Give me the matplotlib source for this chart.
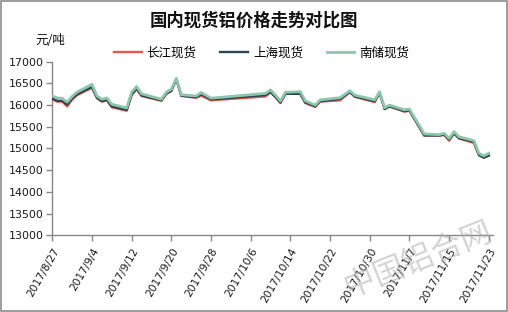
import matplotlib
matplotlib.use("Agg")
import matplotlib.pyplot as plt
import pandas as pd

plt.rcParams['font.family'] = ['Noto Sans CJK SC', 'DejaVu Sans']

dates = ["2017-08-27", "2017-08-28", "2017-08-29", "2017-08-30", "2017-08-31", "2017-09-01",
         "2017-09-04", "2017-09-05", "2017-09-06", "2017-09-07", "2017-09-08",
         "2017-09-11", "2017-09-12", "2017-09-13", "2017-09-14",
         "2017-09-18", "2017-09-19", "2017-09-20", "2017-09-21", "2017-09-22",
         "2017-09-25", "2017-09-26", "2017-09-28",
         "2017-10-09", "2017-10-10", "2017-10-11", "2017-10-12", "2017-10-13",
         "2017-10-16", "2017-10-17", "2017-10-19", "2017-10-20",
         "2017-10-24", "2017-10-26", "2017-10-27", "2017-10-31",
         "2017-11-01", "2017-11-02", "2017-11-03", "2017-11-06", "2017-11-07",
         "2017-11-10", "2017-11-13", "2017-11-14", "2017-11-15", "2017-11-16", "2017-11-17",
         "2017-11-20", "2017-11-21", "2017-11-22", "2017-11-23"]

changjiang = [16130, 16080, 16080, 15970, 16130, 16230,
              16400, 16160, 16080, 16110, 15950,
              15870, 16230, 16370, 16210,
              16100, 16260, 16320, 16600, 16210,
              16170, 16220, 16110,
              16200, 16300, 16180, 16050, 16260,
              16260, 16050, 15960, 16080,
              16110, 16300, 16190, 16070,
              16280, 15910, 15970, 15850, 15870,
              15300, 15300, 15310, 15180, 15350, 15230,
              15130, 14850, 14790, 14830]

shanghai = [16150, 16100, 16100, 16010, 16150, 16250,
            16420, 16170, 16090, 16120, 15970,
            15890, 16250, 16380, 16220,
            16110, 16270, 16330, 16600, 16220,
            16180, 16250, 16130,
            16230, 16300, 16190, 16060, 16260,
            16260, 16060, 15970, 16090,
            16140, 16300, 16200, 16090,
            16280, 15910, 15970, 15860, 15880,
            15300, 15300, 15320, 15210, 15350, 15240,
            15150, 14850, 14790, 14840]

nanchu = [16210, 16165, 16155, 16070, 16200, 16300,
          16480, 16210, 16135, 16165, 16020,
          15935, 16300, 16430, 16260,
          16135, 16300, 16365, 16620, 16240,
          16210, 16290, 16160,
          16270, 16350, 16230, 16095, 16295,
          16310, 16100, 16000, 16120,
          16170, 16330, 16230, 16120,
          16310, 15940, 16000, 15890, 15910,
          15335, 15320, 15350, 15235, 15390, 15270,
          15180, 14890, 14830, 14890]

series_names = ["长江现货", "上海现货", "南储现货"]
yticks = [13000, 13500, 14000, 14500, 15000, 15500, 16000, 16500, 17000]
tick_dates = ["2017-08-27", "2017-09-04", "2017-09-12", "2017-09-20", "2017-09-28", "2017-10-06",
              "2017-10-14", "2017-10-22", "2017-10-30", "2017-11-07", "2017-11-15", "2017-11-23"]
tick_labels = ["2017/8/27", "2017/9/4", "2017/9/12", "2017/9/20", "2017/9/28", "2017/10/6",
               "2017/10/14", "2017/10/22", "2017/10/30", "2017/11/7", "2017/11/15", "2017/11/23"]

x = pd.to_datetime(dates)
xt = pd.to_datetime(tick_dates)

W, H = 508, 312
fig = plt.figure(figsize=(W / 100, H / 100), dpi=100)
fig.patch.set_facecolor("white")
fig.add_artist(plt.Rectangle((0.001, 0.002), 0.997, 0.995, transform=fig.transFigure,
                             fill=False, edgecolor="#8c8c8c", linewidth=1.2))

ax = fig.add_axes([52.3 / W, 1 - 235.3 / H, (493 - 52.3) / W, (235.3 - 61.7) / H])

c_red, c_dark, c_green = "#e8564a", "#2f4554", "#8cc7ac"
ax.plot(x, changjiang, color=c_red, lw=1.7, label=series_names[0], zorder=3)
ax.plot(x, shanghai, color=c_dark, lw=1.7, label=series_names[1], zorder=4)
ax.plot(x, nanchu, color=c_green, lw=2.0, label=series_names[2], zorder=5)

ax.set_ylim(13000, 17000)
ax.set_yticks(yticks)
ax.set_yticklabels([str(v) for v in yticks], fontsize=7.9, family="DejaVu Sans", color="#1a1a1a")
ax.set_xlim(pd.Timestamp("2017-08-27"), pd.Timestamp("2017-08-27") + pd.Timedelta(days=88.85))
ax.set_xticks(xt)
ax.set_xticklabels(tick_labels, fontsize=7.7, family="DejaVu Sans", rotation=60,
                   ha="right", va="top", rotation_mode="anchor", color="#1a1a1a")

for s in ["top", "right"]:
    ax.spines[s].set_visible(False)
for s in ["left", "bottom"]:
    ax.spines[s].set_color("#888888")
    ax.spines[s].set_linewidth(1.0)
ax.tick_params(axis="y", direction="out", length=4, color="#888888", width=1.0, pad=2)
ax.tick_params(axis="x", direction="out", length=4, color="#888888", width=1.0, pad=4)

fig.text(0.5, 1 - 21 / H, "国内现货铝价格走势对比图", ha="center", va="center",
         fontsize=12.5, fontweight="bold", color="#111111")
fig.text(35 / W, 1 - 40 / H, "元/吨", ha="left", va="center", fontsize=9, color="#111111")

fig.legend(loc="center", bbox_to_anchor=(0.515, 1 - 53 / H), ncol=3, frameon=False,
           fontsize=9, handlelength=2.2, handletextpad=0.4, columnspacing=1.9)

fig.text(418 / W, 1 - 260 / H, "中国铝合网", ha="center", va="center", fontsize=22.5,
         rotation=22, color="#a8a8a8", alpha=0.5, zorder=10)

fig.savefig("out.png", dpi=100, facecolor="white")
